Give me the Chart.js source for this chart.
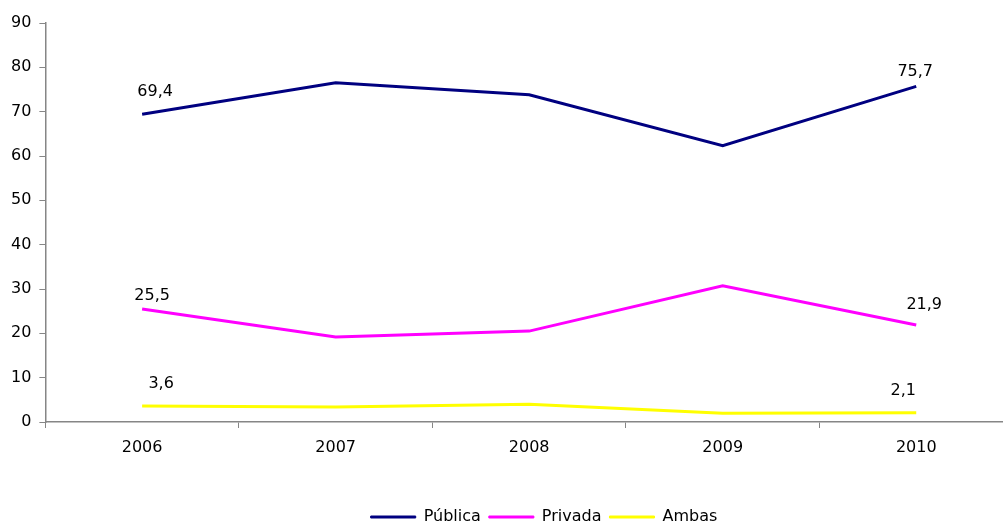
<!DOCTYPE html>
<html lang="pt">
<head>
<meta charset="UTF-8">
<title>Pública / Privada / Ambas</title>
<script src="https://cdn.jsdelivr.net/npm/chart.js@4.4.1/dist/chart.umd.min.js"></script>
<style>
  body { margin: 0; background: #fff; }
  .wrap { width: 1003px; height: 526px; overflow: hidden; }
  canvas { display: block; }
</style>
</head>
<body>
<div class="wrap"><canvas id="chart" width="1013" height="526" style="width:1013px;height:526px"></canvas></div>
<script>
// data
const years = ['2006', '2007', '2008', '2009', '2010'];
const publica = [69.4, 76.5, 73.8, 62.3, 75.7];
const privada = [25.5, 19.2, 20.5, 30.7, 21.9];
const ambas = [3.6, 3.4, 4.0, 2.0, 2.1];
const yTicks = [0, 10, 20, 30, 40, 50, 60, 70, 80, 90];

Chart.defaults.font.family = '"DejaVu Sans", sans-serif';
Chart.defaults.font.size = 16;
Chart.defaults.color = '#000';

// label offsets from the point (first / last point of each series)
const labelOffsets = [
    [[13, -22], [-1, -15]],
    [[10, -13], [8, -20]],
    [[19, -22], [-13, -22]]
];

const endLabels = {
    id: 'endLabels',
    afterDatasetsDraw(chart) {
        const ctx = chart.ctx;
        ctx.save();
        ctx.font = '16px "DejaVu Sans", sans-serif';
        ctx.fillStyle = '#000';
        ctx.textAlign = 'center';
        ctx.textBaseline = 'middle';
        chart.data.datasets.forEach((ds, i) => {
            const meta = chart.getDatasetMeta(i);
            const last = ds.data.length - 1;
            [0, last].forEach((idx, k) => {
                const pt = meta.data[idx];
                const off = labelOffsets[i][k];
                const txt = String(ds.data[idx]).replace('.', ',');
                ctx.fillText(txt, pt.x + off[0], pt.y + off[1]);
            });
        });
        ctx.restore();
    }
};

// nudge the legend right and down like in the original
const legendShift = {
    id: 'legendShift',
    afterLayout(chart) {
        const lg = chart.legend;
        lg.left += 36;
        lg.right += 36;
        lg.top += 9;
        lg.bottom += 9;
    }
};

const axisColor = '#868686';

new Chart(document.getElementById('chart'), {
    type: 'line',
    data: {
        labels: years,
        datasets: [{
            label: 'Pública',
            data: publica,
            borderColor: '#000080',
            backgroundColor: '#000080',
            borderWidth: 3
        }, {
            label: 'Privada',
            data: privada,
            borderColor: '#FF00FF',
            backgroundColor: '#FF00FF',
            borderWidth: 3
        }, {
            label: 'Ambas',
            data: ambas,
            borderColor: '#FFFF00',
            backgroundColor: '#FFFF00',
            borderWidth: 3
        }]
    },
    options: {
        responsive: false,
        animation: false,
        elements: {
            point: { radius: 0 },
            line: { tension: 0 }
        },
        layout: {
            padding: { top: 23, left: 3, right: 0, bottom: 0 }
        },
        plugins: {
            tooltip: { enabled: false },
            legend: {
                position: 'bottom',
                labels: {
                    boxWidth: 45,
                    boxHeight: 2,
                    padding: 8,
                    generateLabels(chart) {
                        const items = Chart.defaults.plugins.legend.labels.generateLabels(chart);
                        items.forEach(it => { it.lineWidth = 1; });
                        return items;
                    }
                }
            }
        },
        scales: {
            x: {
                offset: true,
                grid: {
                    offset: true,
                    drawOnChartArea: false,
                    tickLength: 6,
                    color: axisColor
                },
                border: { color: axisColor, width: 1.5 },
                ticks: { padding: 10, maxRotation: 0 },
                afterFit(scale) {
                    scale.height = 70;
                }
            },
            y: {
                min: yTicks[0],
                max: yTicks[yTicks.length - 1],
                grid: {
                    drawOnChartArea: false,
                    tickLength: 6,
                    color: axisColor
                },
                border: { color: axisColor, width: 1.5 },
                ticks: { stepSize: yTicks[1] - yTicks[0], padding: 8 }
            }
        }
    },
    plugins: [endLabels, legendShift]
});
</script>
</body>
</html>
